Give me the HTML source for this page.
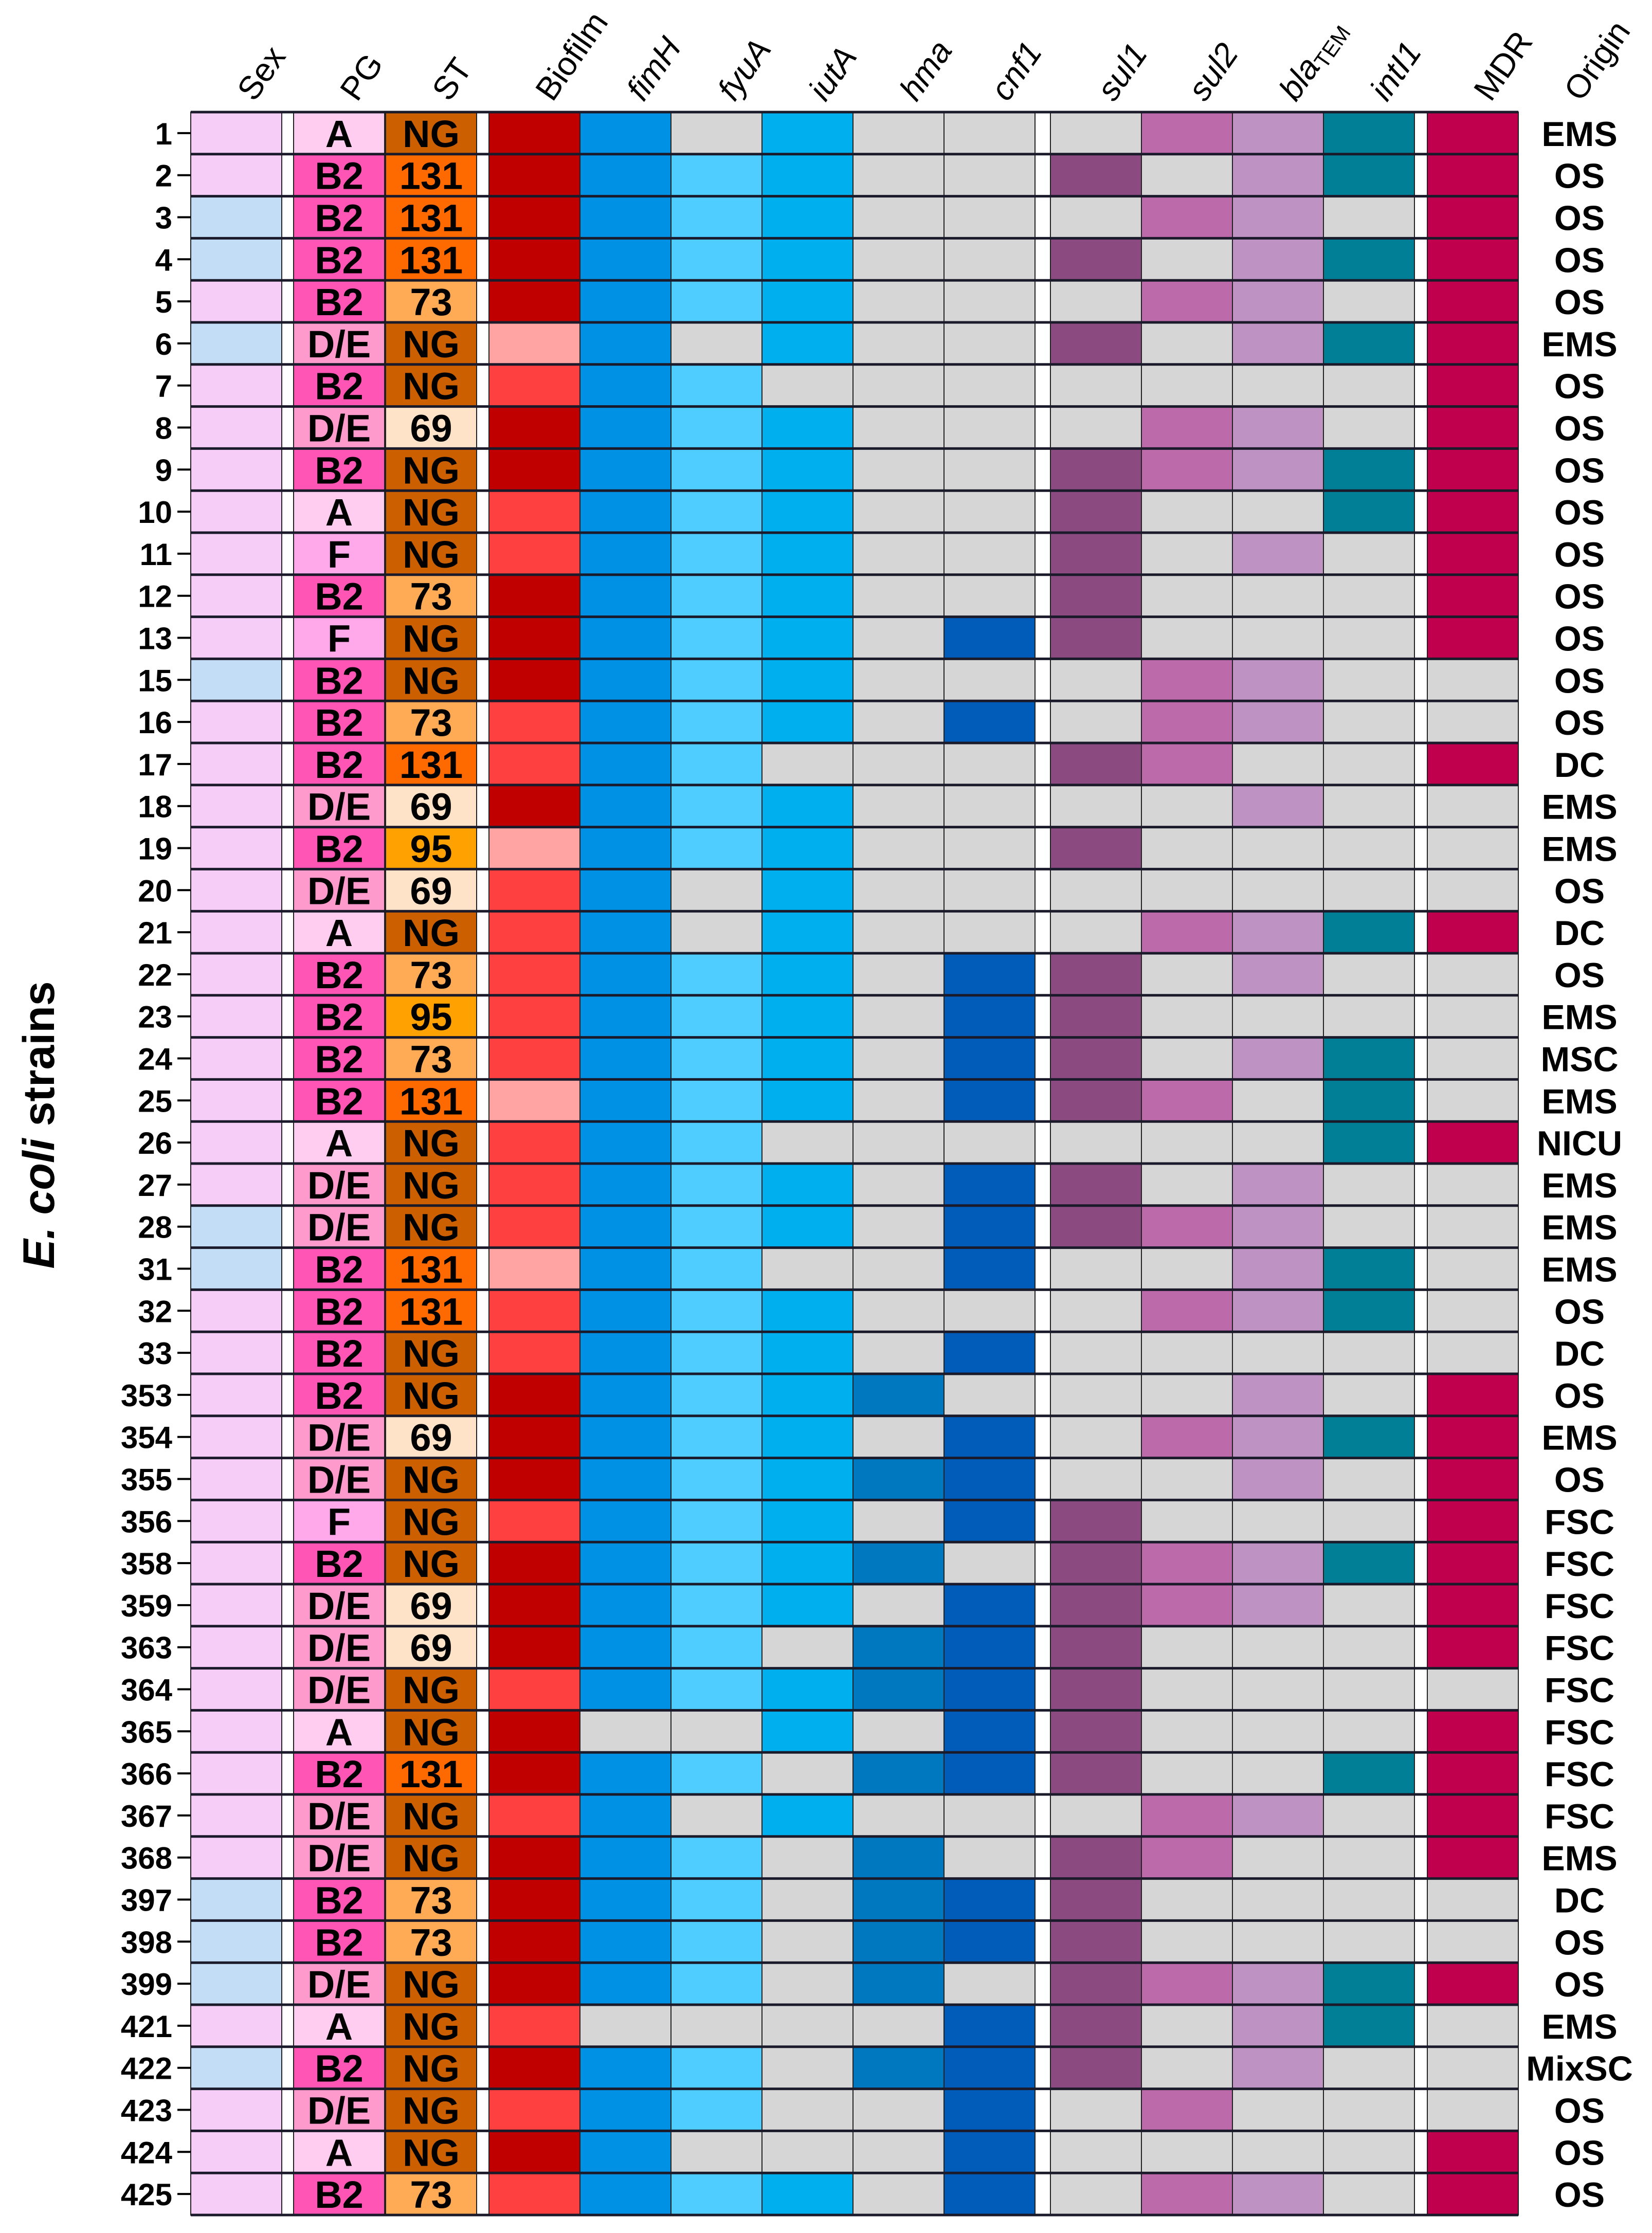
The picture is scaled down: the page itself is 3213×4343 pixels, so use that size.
<!DOCTYPE html>
<html><head><meta charset="utf-8">
<style>
html,body{margin:0;padding:0;background:#fff;}
svg{display:block;}
text{font-family:"Liberation Sans",Arial,sans-serif;}
</style></head>
<body>
<svg id="chart" width="3213" height="4343" viewBox="0 0 3213 4343" xmlns="http://www.w3.org/2000/svg"></svg>
<script>
const strains=["1","2","3","4","5","6","7","8","9","10","11","12","13","15","16","17","18","19","20","21","22","23","24","25","26","27","28","31","32","33","353","354","355","356","358","359","363","364","365","366","367","368","397","398","399","421","422","423","424","425"];
const sexVals=["F","F","M","M","F","M","F","F","F","F","F","F","F","M","F","F","F","F","F","F","F","F","F","F","F","F","M","M","F","F","F","F","F","F","F","F","F","F","F","F","F","F","M","M","M","F","M","F","F","F"];
const pgVals=["A","B2","B2","B2","B2","D/E","B2","D/E","B2","A","F","B2","F","B2","B2","B2","D/E","B2","D/E","A","B2","B2","B2","B2","A","D/E","D/E","B2","B2","B2","B2","D/E","D/E","F","B2","D/E","D/E","D/E","A","B2","D/E","D/E","B2","B2","D/E","A","B2","D/E","A","B2"];
const stVals=["NG","131","131","131","73","NG","NG","69","NG","NG","NG","73","NG","NG","73","131","69","95","69","NG","73","95","73","131","NG","NG","NG","131","131","NG","NG","69","NG","NG","NG","69","69","NG","NG","131","NG","NG","73","73","NG","NG","NG","NG","NG","73"];
const biofilmVals=("DDDDDPRDDRRDD"+"DRRDPRRRRRPRRRPRR"+"DDDRDDDRDDRDDDDRDRDR").split("");
// per strain: fimH fyuA iutA hma cnf1 sul1 sul2 blaTEM intI1 MDR
const geneMatrix=[
"1010001111","1110010111","1110001101","1110010111","1110001101",
"1010010111","1100000001","1110001101","1110011111","1110010011",
"1110010101","1110010001","1110110001","1110001100","1110101100",
"1100011001","1110000100","1110010000","1010000000","1010001111",
"1110110100","1110110000","1110110110","1110111010","1100000011",
"1110110100","1110111100","1100100110","1110001110","1110100000",
"1111000101","1110101111","1111100101","1110110001","1111011111",
"1110111101","1101110001","1111110000","0010110001","1101110011",
"1010001101","1101011001","1101110000","1101110000","1101011111",
"0000110110","1101110100","1100101000","1000100001","1110101101"];
const origin=["EMS","OS","OS","OS","OS","EMS","OS","OS","OS","OS","OS","OS","OS","OS","OS","DC","EMS","EMS","OS","DC","OS","EMS","MSC","EMS","NICU","EMS","EMS","EMS","OS","DC","OS","EMS","OS","FSC","FSC","FSC","FSC","FSC","FSC","FSC","FSC","EMS","DC","OS","OS","EMS","MixSC","OS","OS","OS"];
const headers=["Sex","PG","ST","Biofilm","fimH","fyuA","iutA","hma","cnf1","sul1","sul2","blaTEM","intI1","MDR"];

const NS="http://www.w3.org/2000/svg";
const svg=document.getElementById("chart");
function mk(tag,attrs,parent){const e=document.createElementNS(NS,tag);for(const k in attrs)e.setAttribute(k,attrs[k]);(parent||svg).appendChild(e);return e;}
const top0=218,rowH=81.8;
const colX=[371,571,750,951,1128,1305,1482,1659,1836,2043,2220,2397,2574,2776];
const colW=177;
const yOf=i=>top0+i*rowH;
const GRAY="#d6d6d6";
const sexC={F:"#f6cdf7",M:"#c3ddf6"};
const pgC={"A":"#ffcdef","B2":"#ff55b5","D/E":"#ff9acc","F":"#ffa8ea"};
const stC={"NG":"#cc6000","131":"#ff6a00","73":"#ffaa55","69":"#ffe3c8","95":"#ffa100"};
const bioC={D:"#c00000",R:"#ff4040",P:"#ffa3a3"};
const geneColors=["#0090e4","#4fcdff","#00b0ee","#0078c0","#005cb8","#8b4a80","#bd6aaa","#bf92c4","#007f96","#c0004c"];

const grid=mk("g",{});


for(let i=0;i<strains.length;i++){
  const y=yOf(i);
  const fills=[sexC[sexVals[i]],pgC[pgVals[i]],stC[stVals[i]],bioC[biofilmVals[i]]];
  geneColors.forEach((c,g)=>fills.push(geneMatrix[i][g]==="1"?c:GRAY));
  fills.forEach((f,c)=>{
    const r=mk("rect",{x:colX[c],y:y,width:colW,height:rowH,fill:f,stroke:"#222","stroke-width":2},grid);
    
    
  });
  const ln=mk("line",{x1:371,x2:2953,y1:y,y2:y,stroke:"#1a1a2a","stroke-width":5},grid);
  
  
  const t1=mk("text",{x:colX[1]+colW/2,y:y+rowH/2+27,"text-anchor":"middle","font-size":74,"font-weight":"bold",fill:"#000"},grid);
  t1.textContent=pgVals[i];
  
  
  const t2=mk("text",{x:colX[2]+colW/2,y:y+rowH/2+27,"text-anchor":"middle","font-size":74,"font-weight":"bold",fill:"#000"},grid);
  t2.textContent=stVals[i];
  
  
  const rl=mk("text",{x:335,y:y+rowH/2+22,"text-anchor":"end","font-size":60,"font-weight":"bold",fill:"#000"});
  rl.textContent=strains[i];
  
  
  const tk=mk("line",{x1:345,x2:371,y1:y+rowH/2,y2:y+rowH/2,stroke:"#000","stroke-width":4});
  
  
  const ol=mk("text",{x:3072,y:y+rowH/2+25,"text-anchor":"middle","font-size":68,"font-weight":"bold",fill:"#000"});
  ol.textContent=origin[i];
  
  
}
const bl=mk("line",{x1:371,x2:2953,y1:yOf(strains.length),y2:yOf(strains.length),stroke:"#1a1a2a","stroke-width":5},grid);



const italic=[false,false,false,false,true,true,true,true,true,true,true,true,true,false,false];
headers.concat(["Origin"]).forEach((h,c)=>{
  const cx=c<14?colX[c]+colW/2+35:3075;
  const t=mk("text",{x:cx,y:200,"font-size":64,fill:"#000","font-style":italic[c]?"italic":"normal",transform:`rotate(-55 ${cx} 200)`});
  if(h==="blaTEM"){t.textContent="bla";const s=mk("tspan",{"font-size":42,"font-style":"normal",dy:10},t);s.textContent="TEM";}
  else t.textContent=h;
  
  
});

const yt=mk("text",{x:105,y:2188,"text-anchor":"middle","font-size":86,"font-weight":"bold",fill:"#000",transform:"rotate(-90 105 2188)"});
const a=mk("tspan",{"font-style":"italic"},yt);a.textContent="E. coli";
const b=mk("tspan",{},yt);b.textContent=" strains";


</script>
</body></html>
